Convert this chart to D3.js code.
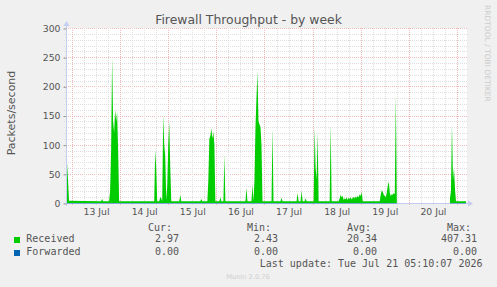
<!DOCTYPE html>
<html>
<head>
<meta charset="utf-8">
<script src="https://cdn.jsdelivr.net/npm/d3@7"></script>
<style>
  body { margin: 0; background: #f0f0f0; }
  svg { display: block; }
</style>
</head>
<body>
<div id="chart"></div>
<script>
// hours counted from 13 Jul 00:00
var hours = [
  -2.5, -2, -1.5, 14.5, 15, 15.5, 18.5, 19, 19.5, 20, 20.5, 21, 21.5, 22, 22.5, 23, 23.5,
  41, 41.5, 42, 42.5, 43.5, 44, 44.5, 45,
  45.5, 46, 46.5, 47, 47.5, 48, 48.5, 49, 49.5,
  53.5, 54, 54.5, 64, 64.5, 65,
  67.5, 68, 68.5, 69, 69.5, 70, 70.5, 71, 71.5,
  73.5, 74, 74.5, 75.5, 76, 76.5, 86.5, 87, 87.5, 89.5, 90, 90.5,
  91, 91.5, 92, 92.5, 93, 93.5, 94, 94.5, 95,
  99.5, 100, 100.5, 104, 104.5, 105, 112, 112.5, 113, 114, 114.5, 115, 116, 116.5, 117,
  120.5, 121, 121.5, 122, 122.5, 123, 128.5, 129, 129.5,
  133, 133.5, 134, 134.5, 135, 135.5, 136, 136.5, 137, 137.5, 138, 138.5, 139,
  139.5, 140, 140.5, 141, 141.5, 142, 142.5, 143, 143.5, 144, 144.5, 145,
  153.5, 154, 154.5, 155, 155.5, 156, 156.5, 157, 157.5, 158, 158.5, 159, 159.5,
  160, 160.5, 161, 161.5, 162,
  175,
  188.5, 189, 189.5, 190, 190.5, 191, 191.5, 196.5
]
var received = [
  70, 40, 4, 3, 7, 3, 3, 20, 90, 250, 140, 120, 160, 140, 156, 90, 3,
  3, 91, 60, 3, 3, 10, 8, 3,
  151, 100, 80, 5, 30, 100, 139, 60, 3,
  3, 14, 3, 3, 7, 3,
  3, 40, 110, 115, 128, 110, 122, 100, 3,
  3, 10, 3, 3, 82, 3, 3, 26, 3, 3, 31, 3,
  40, 130, 180, 225, 140, 135, 130, 100, 3,
  3, 128, 3, 3, 9, 3, 3, 17, 3, 3, 21, 3, 3, 8, 3,
  3, 128, 60, 40, 122, 3, 3, 135, 3,
  3, 8, 14, 10, 12, 5, 8, 6, 10, 5, 9, 7, 10,
  6, 9, 10, 8, 11, 9, 12, 10, 15, 12, 19, 3,
  3, 15, 22, 19, 14, 12, 10, 18, 30, 37, 17, 12, 15,
  14, 17, 15, 185, 3,
  null,
  8, 20, 135, 40, 60, 25, 3, 3
]
var forwardedHours = [-2.5, 162, 175, 188.5, 196.5]
var forwarded = [0, 0, null, 0, 0]

var yTicks = [0, 50, 100, 150, 200, 250, 300]
var legendNames = ['Received', 'Forwarded']
var legendColors = ['#00cc00', '#0066b3']
var statHeads = ['Cur:', 'Min:', 'Avg:', 'Max:']
var statsReceived = ['2.97', '2.43', '20.34', '407.31']
var statsForwarded = ['0.00', '0.00', '0.00', '0.00']

var width = 497
var height = 287
var plotLeft = 67, plotRight = 467, plotTop = 28, plotBottom = 203

var origin = Date.UTC(2026, 6, 13)
function toDate(h) {
  return new Date(origin + h * 3600 * 1000)
}

var x = d3.scaleUtc()
  .domain([toDate(-2.5), toDate(197)])
  .range([plotLeft, plotRight])
var y = d3.scaleLinear()
  .domain([0, 300])
  .range([plotBottom, plotTop])

var svg = d3.select('#chart')
  .append('svg')
  .attr('width', width)
  .attr('height', height)
  .style('font-family', 'DejaVu Sans, sans-serif')

svg.append('rect')
  .attr('width', width).attr('height', height)
  .attr('fill', '#f0f0f0')

svg.append('rect')
  .attr('x', plotLeft).attr('y', plotTop)
  .attr('width', plotRight - plotLeft).attr('height', plotBottom - plotTop)
  .attr('fill', '#ffffff')

var gridMinor = '#dedede'
var gridMajor = '#f3b8b8'

// horizontal grid
var yMinor = d3.range(0, 301, 10)
svg.append('g')
  .selectAll('line')
  .data(yMinor)
  .enter()
  .append('line')
  .attr('x1', plotLeft - 3)
  .attr('x2', plotRight)
  .attr('y1', function(d) { return Math.round(y(d)) + 0.5 })
  .attr('y2', function(d) { return Math.round(y(d)) + 0.5 })
  .attr('stroke', function(d) { return d % 50 === 0 ? gridMajor : gridMinor })
  .attr('stroke-dasharray', '1,1')

// vertical grid
var sixHours = d3.utcHour.every(6).range(x.domain()[0], x.domain()[1])
svg.append('g')
  .selectAll('line')
  .data(sixHours)
  .enter()
  .append('line')
  .attr('x1', function(d) { return Math.round(x(d)) + 0.5 })
  .attr('x2', function(d) { return Math.round(x(d)) + 0.5 })
  .attr('y1', plotTop)
  .attr('y2', plotBottom + 3)
  .attr('stroke', function(d) { return d.getUTCHours() === 0 ? gridMajor : gridMinor })
  .attr('stroke-dasharray', '1,1')

// received area
var points = hours.map(function(h, i) {
  return { t: toDate(h), v: received[i] }
})
var area = d3.area()
  .defined(function(d) { return d.v !== null })
  .x(function(d) { return x(d.t) })
  .y0(y(0))
  .y1(function(d) { return y(d.v) })

svg.append('path')
  .datum(points)
  .attr('d', area)
  .attr('fill', legendColors[0])

// axis lines with arrows
var axisColor = '#c4ccf2'
svg.append('line')
  .attr('x1', plotLeft - 0.5).attr('x2', plotLeft - 0.5)
  .attr('y1', plotBottom + 3).attr('y2', plotTop - 4)
  .attr('stroke', axisColor)
svg.append('line')
  .attr('x1', plotLeft - 3).attr('x2', plotRight + 3)
  .attr('y1', plotBottom + 0.5).attr('y2', plotBottom + 0.5)
  .attr('stroke', axisColor)

// forwarded line
var fwdPoints = forwardedHours.map(function(h, i) {
  return { t: toDate(h), v: forwarded[i] }
})
var fwdLine = d3.line()
  .defined(function(d) { return d.v !== null })
  .x(function(d) { return x(d.t) })
  .y(function(d) { return y(d.v) + 0.5 })
svg.append('path')
  .datum(fwdPoints)
  .attr('d', fwdLine)
  .attr('fill', 'none')
  .attr('stroke', legendColors[1])
  .attr('stroke-opacity', 0.35)

svg.append('path')
  .attr('d', 'M' + (plotLeft - 3.5) + ',' + (plotTop - 2) + 'L' + (plotLeft + 2.5) + ',' + (plotTop - 2) + 'L' + (plotLeft - 0.5) + ',' + (plotTop - 7) + 'Z')
  .attr('fill', axisColor)
svg.append('path')
  .attr('d', 'M' + (plotRight + 1) + ',' + (plotBottom - 2.5) + 'L' + (plotRight + 1) + ',' + (plotBottom + 3.5) + 'L' + (plotRight + 6) + ',' + (plotBottom + 0.5) + 'Z')
  .attr('fill', axisColor)

// y tick marks and labels
var yAxis = d3.axisLeft(y).tickValues(yTicks).tickSize(3).tickPadding(3)
svg.append('g')
  .attr('class', 'axis y-axis')
  .attr('transform', 'translate(' + (plotLeft - 0.5) + ',0.5)')
  .call(yAxis)
  .call(function(g) { g.select('.domain').remove() })
  .call(function(g) {
    g.selectAll('line').attr('stroke', '#999')
    g.selectAll('text')
      .attr('fill', '#555')
      .attr('font-size', 9.3)
      .attr('font-family', 'DejaVu Sans, sans-serif')
  })

// x labels at noon
var noons = d3.utcDay.range(x.domain()[0], x.domain()[1]).map(function(d) {
  return d3.utcHour.offset(d, 12)
}).filter(function(d) { return d < x.domain()[1] })
var xAxis = d3.axisBottom(x)
  .tickValues(noons)
  .tickSize(0)
  .tickPadding(5.5)
  .tickFormat(d3.utcFormat('%d %b'))
svg.append('g')
  .attr('class', 'axis x-axis')
  .attr('transform', 'translate(0,' + plotBottom + ')')
  .call(xAxis)
  .call(function(g) { g.select('.domain').remove() })
  .call(function(g) {
    g.selectAll('text')
      .attr('fill', '#555')
      .attr('font-size', 9.3)
      .attr('font-family', 'DejaVu Sans, sans-serif')
  })

// titles
svg.append('text')
  .text('Firewall Throughput - by week')
  .attr('x', 248.5)
  .attr('y', 24)
  .attr('text-anchor', 'middle')
  .attr('font-size', 12.4)
  .attr('fill', '#555')

svg.append('text')
  .text('Packets/second')
  .attr('transform', 'translate(15,113) rotate(-90)')
  .attr('text-anchor', 'middle')
  .attr('font-size', 11)
  .attr('fill', '#555')

svg.append('text')
  .text('RRDTOOL / TOBI OETIKER')
  .attr('transform', 'translate(485,5) rotate(90)')
  .attr('font-size', 7.5)
  .attr('fill', '#cccccc')

// legend
var mono = 'DejaVu Sans Mono, monospace'
var headEnds = [172, 271, 371, 471]
var valueEnds = [179, 278, 377, 477]

svg.append('g')
  .selectAll('text')
  .data(statHeads)
  .enter()
  .append('text')
  .text(function(d) { return d })
  .attr('x', function(d, i) { return headEnds[i] })
  .attr('y', 230.5)
  .attr('text-anchor', 'end')
  .attr('font-family', mono)
  .attr('font-size', 10)
  .attr('fill', '#555')

var rows = [statsReceived, statsForwarded]
rows.forEach(function(row, r) {
  var yy = 242 + r * 13
  svg.append('rect')
    .attr('x', 14).attr('y', yy - 5)
    .attr('width', 6).attr('height', 6)
    .attr('fill', legendColors[r])
  svg.append('text')
    .text(legendNames[r])
    .attr('x', 26.3).attr('y', yy)
    .attr('font-family', mono)
    .attr('font-size', 10)
    .attr('fill', '#555')
  svg.append('g')
    .selectAll('text')
    .data(row)
    .enter()
    .append('text')
    .text(function(d) { return d })
    .attr('x', function(d, i) { return valueEnds[i] })
    .attr('y', yy)
    .attr('text-anchor', 'end')
    .attr('font-family', mono)
    .attr('font-size', 10)
    .attr('fill', '#555')
})

svg.append('text')
  .text('Last update: Tue Jul 21 05:10:07 2026')
  .attr('x', 482.5)
  .attr('y', 266.5)
  .attr('text-anchor', 'end')
  .attr('font-family', mono)
  .attr('font-size', 10)
  .attr('fill', '#555')

svg.append('text')
  .text('Munin 2.0.76')
  .attr('x', 248)
  .attr('y', 279)
  .attr('text-anchor', 'middle')
  .attr('font-size', 6.7)
  .attr('fill', '#cfcfcf')
</script>
</body>
</html>
